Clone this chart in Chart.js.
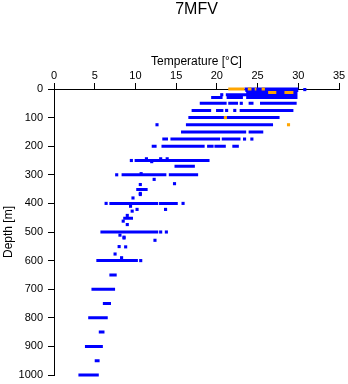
<!DOCTYPE html>
<html>
<head>
<meta charset="utf-8">
<script src="https://cdn.jsdelivr.net/npm/chart.js@4.4.1/dist/chart.umd.min.js"></script>
<style>
  html, body { margin: 0; padding: 0; background: #fff; }
</style>
</head>
<body>
<canvas id="profileChart" width="348" height="384"></canvas>
<script>
// axis ticks
const tempTicks = [0, 5, 10, 15, 20, 25, 30, 35];
const depthTicks = [0, 100, 200, 300, 400, 500, 600, 700, 800, 900, 1000];

// blue runs of samples: depth [m], temperature from / to [°C]
const segDepth = [0, 5, 10, 20, 30, 30, 30, 50, 50, 50, 50, 75, 75, 75, 100, 125, 150, 150,
  175, 175, 175, 200, 200, 200, 200, 200, 250, 270, 300, 300, 351, 400, 400, 452, 500,
  600, 650, 700, 750, 800, 850, 900, 950, 1000];
const segFrom = [23.4, 23.5, 23.6, 21.1, 19.3, 21.2, 23.6, 17.9, 21.4, 23.9, 25.3, 16.9, 19.9, 22.8, 16.5, 16.2, 15.6, 23.9,
  13.3, 14.3, 20.6, 12.0, 13.2, 18.8, 19.7, 21.9, 9.9, 14.8, 8.3, 14.1, 10.1, 6.8, 12.9, 8.5, 5.7,
  5.2, 6.8, 4.6, 6.0, 4.2, 5.5, 3.8, 5.0, 3.0];
const segTo = [30.0, 30.0, 29.9, 29.9, 20.7, 23.2, 29.9, 21.2, 22.6, 24.5, 29.8, 19.3, 20.8, 29.4, 27.7, 26.9, 23.6, 25.7,
  14.0, 20.4, 22.9, 12.6, 18.5, 19.6, 21.1, 22.7, 19.1, 17.3, 13.8, 17.7, 11.5, 12.8, 15.2, 9.7, 12.8,
  10.3, 7.7, 7.5, 7.0, 6.6, 6.2, 6.0, 5.6, 5.5];

// blue single samples
const dotDepth = [2, 20, 50, 75, 75, 125, 175, 175, 244, 244, 244, 254, 250, 300, 296, 316, 331, 334,
  365, 369, 381, 400, 400, 410, 421, 427, 421, 442, 462, 474, 500, 500, 511, 518, 521, 529,
  551, 552, 577, 590, 600];
const dotTemp = [30.8, 20.6, 23.0, 21.2, 22.2, 12.65, 23.4, 24.3, 11.35, 13.1, 13.9, 12.0, 9.5, 7.7, 10.7, 12.3, 14.8, 10.6,
  10.6, 10.6, 9.7, 6.4, 15.85, 9.4, 10.2, 9.6, 13.7, 9.0, 8.5, 9.0, 13.1, 13.8, 8.1, 8.6, 8.6, 12.4,
  8.0, 8.8, 7.5, 8.3, 10.65];

// orange (flagged) samples
const flagSegDepth = [0, 0, 0, 0, 12, 12];
const flagSegFrom = [21.4, 23.8, 24.65, 25.5, 26.3, 28.3];
const flagSegTo = [23.4, 24.25, 24.85, 25.9, 27.3, 29.4];
const flagDotDepth = [100, 125];
const flagDotTemp = [21.05, 28.8];

function runs(depths, from, to) {
  const pts = [];
  depths.forEach((d, i) => {
    pts.push({ x: from[i], y: d }, { x: to[i], y: d }, { x: NaN, y: NaN });
  });
  return pts;
}
function dots(depths, temps) {
  return depths.map((d, i) => ({ x: temps[i], y: d }));
}

const BLUE = '#0000ff';
const ORANGE = '#ffa500';
const font = { family: '"Liberation Sans", Arial, Helvetica, sans-serif' };

new Chart(document.getElementById('profileChart'), {
  type: 'scatter',
  data: {
    datasets: [
      { data: dots(flagDotDepth, flagDotTemp), backgroundColor: ORANGE, borderWidth: 0,
        pointStyle: 'rect', pointRadius: 2.2, order: 0, clip: 4 },
      { data: runs(flagSegDepth, flagSegFrom, flagSegTo), showLine: true, spanGaps: false,
        borderColor: ORANGE, borderWidth: 3, borderCapStyle: 'butt', pointRadius: 0, order: 1, clip: 4 },
      { data: dots(dotDepth, dotTemp), backgroundColor: BLUE, borderWidth: 0,
        pointStyle: 'rect', pointRadius: 2.2, order: 2, clip: 4 },
      { data: runs(segDepth, segFrom, segTo), showLine: true, spanGaps: false,
        borderColor: BLUE, borderWidth: 3, borderCapStyle: 'butt', pointRadius: 0, order: 3, clip: 4 }
    ]
  },
  options: {
    responsive: false,
    animation: false,
    devicePixelRatio: 1,
    layout: { padding: { left: 0, right: 9, top: 0, bottom: 9 } },
    plugins: {
      legend: { display: false },
      tooltip: { enabled: false },
      title: {
        display: true,
        text: '7MFV',
        fullSize: false,
        color: '#000',
        font: { ...font, size: 16, weight: 'normal' },
        padding: { top: 0, bottom: 0 }
      }
    },
    scales: {
      x: {
        type: 'linear',
        position: 'top',
        min: 0,
        max: 35,
        afterFit: s => { s.height = 69.8; },
        afterBuildTicks: s => { s.ticks = tempTicks.map(v => ({ value: v })); },
        border: { display: true, color: '#000', width: 1 },
        grid: { drawOnChartArea: false, drawTicks: true, tickLength: 6, color: '#000' },
        ticks: { color: '#000', font: { ...font, size: 11 }, padding: 0, maxRotation: 0,
          callback: v => String(v) },
        title: { display: true, text: 'Temperature [°C]', color: '#000',
          font: { ...font, size: 12 }, padding: { top: 35, bottom: 0 } }
      },
      y: {
        type: 'linear',
        reverse: true,
        min: 0,
        max: 1000,
        afterFit: s => { s.width = 54; s.paddingTop = 0; s.paddingBottom = 0; },
        afterBuildTicks: s => { s.ticks = depthTicks.map(v => ({ value: v })); },
        border: { display: true, color: '#000', width: 1 },
        grid: { drawOnChartArea: false, drawTicks: true, tickLength: 6, color: '#000' },
        ticks: { color: '#000', font: { ...font, size: 11 }, padding: 5,
          callback: v => String(v) },
        title: { display: true, text: 'Depth [m]', color: '#000',
          font: { ...font, size: 12 }, padding: { top: 1, bottom: 0 } }
      }
    }
  }
});
</script>
</body>
</html>
